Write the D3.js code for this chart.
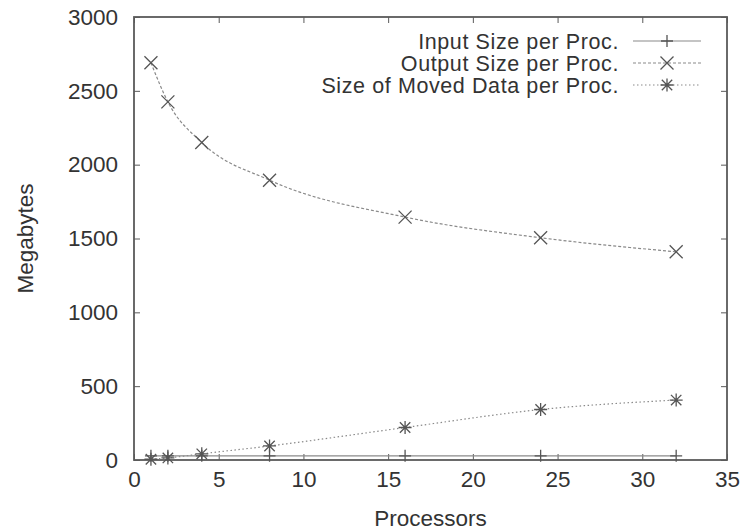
<!DOCTYPE html>
<html><head><meta charset="utf-8">
<script src="https://cdn.jsdelivr.net/npm/d3@7"></script>
<style>body{margin:0;background:#fff}svg{display:block}text{font-family:"Liberation Sans",Arial,sans-serif;fill:#333}</style>
</head><body><svg id="c" width="748" height="531"></svg>
<script>
const processors = [1, 2, 4, 8, 16, 24, 32];
const inputSize = [28, 28, 28, 28, 28, 28, 28];
const outputSize = [2690, 2425, 2150, 1895, 1645, 1505, 1410];
const movedSize = [5, 14, 42, 95, 220, 342, 406];
const seriesNames = ["Input Size per Proc.", "Output Size per Proc.", "Size of Moved Data per Proc."];
const xTicks = [0, 5, 10, 15, 20, 25, 30, 35];
const yTicks = [0, 500, 1000, 1500, 2000, 2500, 3000];

const svg = d3.select("#c");
const m = {l:134, r:20, t:17, b:71};
const W = 748, H = 531;
const FS = 22.5;
const x = d3.scaleLinear().domain([0,35]).range([m.l, W-m.r-1]);
const y = d3.scaleLinear().domain([0,3000]).range([H-m.b, m.t]);
const frame = "#5a5a5a", lineCol = "#8a8a8a", markCol = "#555", txt = "#333";

const tl = 6;
const styleText = g=>g.selectAll("text").attr("font-size",FS).attr("fill",txt).attr("font-family","Liberation Sans, Arial, sans-serif");
svg.append("g").attr("transform",`translate(0,${y(0)})`)
  .call(d3.axisBottom(x).tickValues(xTicks).tickSizeInner(-tl).tickSizeOuter(0).tickPadding(11).tickFormat(d3.format("d")))
  .call(g=>{g.select(".domain").remove();g.selectAll("line").attr("stroke",frame);styleText(g);});
svg.append("g").attr("transform",`translate(0,${y(3000)})`)
  .call(d3.axisTop(x).tickValues(xTicks).tickSizeInner(-tl).tickSizeOuter(0).tickFormat(""))
  .call(g=>{g.select(".domain").remove();g.selectAll("line").attr("stroke",frame);});
svg.append("g").attr("transform",`translate(${x(0)},0)`)
  .call(d3.axisLeft(y).tickValues(yTicks).tickSizeInner(-tl).tickSizeOuter(0).tickPadding(16).tickFormat(d3.format("d")))
  .call(g=>{g.select(".domain").remove();g.selectAll("line").attr("stroke",frame);styleText(g);});
svg.append("g").attr("transform",`translate(${x(35)},0)`)
  .call(d3.axisRight(y).tickValues(yTicks).tickSizeInner(-tl).tickSizeOuter(0).tickFormat(""))
  .call(g=>{g.select(".domain").remove();g.selectAll("line").attr("stroke",frame);});

svg.append("rect").attr("x",x(0)).attr("y",y(3000)).attr("width",x(35)-x(0)).attr("height",y(0)-y(3000))
  .attr("fill","none").attr("stroke",frame).attr("stroke-width",1.8);

svg.append("text").attr("x",(x(0)+x(35))/2).attr("y",526).attr("text-anchor","middle").attr("font-size",FS).text("Processors");
svg.append("text").attr("transform",`translate(33,${(y(0)+y(3000))/2}) rotate(-90)`).attr("text-anchor","middle").attr("font-size",FS).text("Megabytes");

const markers = {
  plus: s=>`M${-s},0H${s}M0,${-s}V${s}`,
  cross: s=>`M${-s},${-s}L${s},${s}M${-s},${s}L${s},${-s}`,
  star: s=>`M${-s},0H${s}M0,${-s}V${s}M${-s*0.8},${-s*0.8}L${s*0.8},${s*0.8}M${-s*0.8},${s*0.8}L${s*0.8},${-s*0.8}`
};
const series = [
  {name:seriesNames[0], vals:inputSize, dash:null, mk:"plus", sz:6},
  {name:seriesNames[1], vals:outputSize, dash:"3,2", mk:"cross", sz:6.5},
  {name:seriesNames[2], vals:movedSize, dash:"1.5,2.5", mk:"star", sz:6.5}
];
const line = d3.line().x(d=>x(d[0])).y(d=>y(d[1])).curve(d3.curveMonotoneX);
series.forEach(s=>{
  const pts = processors.map((p,i)=>[p,s.vals[i]]);
  svg.append("path").attr("d",line(pts)).attr("fill","none").attr("stroke",lineCol).attr("stroke-width",1.2)
    .attr("stroke-dasharray",s.dash);
  svg.selectAll(null).data(pts).enter().append("path")
    .attr("transform",d=>`translate(${x(d[0])},${y(d[1])})`).attr("d",markers[s.mk](s.sz))
    .attr("stroke",markCol).attr("stroke-width",1.3).attr("fill","none");
});

const ly = [41, 63, 85];
series.forEach((s,i)=>{
  svg.append("text").attr("x",619).attr("y",ly[i]).attr("dy","0.35em").attr("text-anchor","end")
    .attr("font-size",21.5).attr("letter-spacing","0.6px").text(s.name);
  svg.append("line").attr("x1",633).attr("x2",701).attr("y1",ly[i]).attr("y2",ly[i]).attr("stroke",lineCol).attr("stroke-width",1.2).attr("stroke-dasharray",s.dash);
  svg.append("path").attr("transform",`translate(667,${ly[i]})`).attr("d",markers[s.mk](s.sz)).attr("stroke",markCol).attr("stroke-width",1.3).attr("fill","none");
});
</script></body></html>
